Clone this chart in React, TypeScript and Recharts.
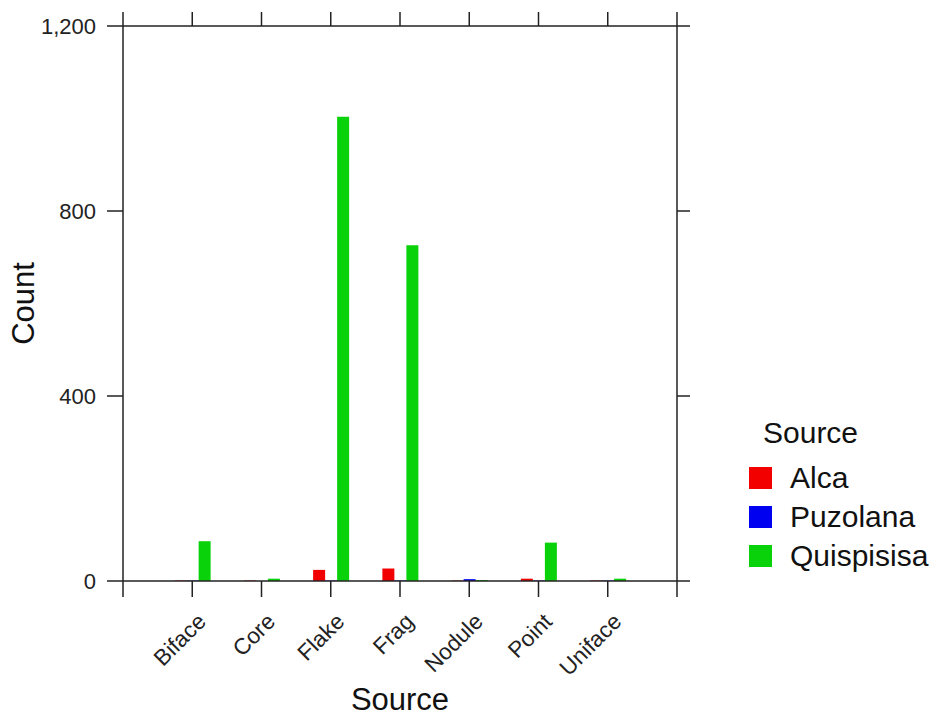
import { BarChart, Bar, XAxis, YAxis, Legend, Label } from 'recharts'

const categories = ['Biface', 'Core', 'Flake', 'Frag', 'Nodule', 'Point', 'Uniface']
const alca = [1, 1, 24, 27, 1, 5, 1]
const puzolana = [1, 0, 1, 1, 4, 1, 1]
const quispisisa = [86, 5, 1004, 726, 2, 83, 5]
const countTicks = [0, 400, 800, 1200]
// category slots sit at 1..7, the frame corners at 0 and 8
const slotTicks = [0, 1, 2, 3, 4, 5, 6, 7, 8]

const font = "Arial, 'Liberation Sans', sans-serif"
const ink = '#222'

const data = categories.map((name, i) => ({
   pos: i + 1,
   name,
   Alca: alca[i],
   Puzolana: puzolana[i],
   Quispisisa: quispisisa[i],
}))

const CategoryTick = ({ x, y, payload }: any) => {
   const name = categories[payload.value - 1]
   if (!name) return <g />
   return (
      <text
         x={0}
         y={0}
         transform={`translate(${x + 15},${y + 26}) rotate(-45)`}
         textAnchor='end'
         fontSize={22.5}
         fontFamily={font}
         fill={ink}
      >
         {name}
      </text>
   )
}

const NoTick = () => <g />

const LegendBox = ({ payload }: any) => (
   <div style={{ fontFamily: font, color: '#111' }}>
      <div style={{ height: 40, lineHeight: '40px', fontSize: 30, paddingLeft: 14, marginBottom: 5 }}>Source</div>
      {(payload || []).map((item: any) => (
         <div key={item.value} style={{ height: 39, display: 'flex', alignItems: 'center' }}>
            <div style={{ width: 23, height: 22, background: item.color }} />
            <span style={{ fontSize: 30, marginLeft: 18 }}>{item.value}</span>
         </div>
      ))}
   </div>
)

export default function App() {
   return (
      <div style={{ position: 'absolute', left: 0, top: 0, width: 940, height: 717, background: '#fff' }}>
         <BarChart
            width={940}
            height={717}
            data={data}
            margin={{ top: 0, right: 0, bottom: 0, left: 0 }}
            barSize={12}
            barGap={0}
         >
            <XAxis
               dataKey='pos'
               type='number'
               domain={[0, 8]}
               ticks={slotTicks}
               interval={0}
               allowDataOverflow
               height={136}
               tickSize={16}
               tickMargin={0}
               tick={CategoryTick}
               stroke={ink}
               strokeWidth={1.5}
            >
               <Label value='Source' position='insideBottom' offset={7} fontSize={31} fontFamily={font} fill='#111' />
            </XAxis>
            <XAxis
               xAxisId='top'
               orientation='top'
               dataKey='pos'
               type='number'
               domain={[0, 8]}
               ticks={slotTicks}
               interval={0}
               allowDataOverflow
               height={26}
               tickSize={14}
               tick={NoTick}
               stroke={ink}
               strokeWidth={1.5}
            />
            <YAxis
               type='number'
               domain={[0, 1200]}
               ticks={countTicks}
               interval={0}
               allowDataOverflow
               width={123}
               tickSize={16}
               tickMargin={11}
               tickFormatter={(v: number) => v.toLocaleString('en-US')}
               tick={{ fontSize: 22, fontFamily: font, fill: ink }}
               stroke={ink}
               strokeWidth={1.5}
            >
               <Label
                  value='Count'
                  angle={-90}
                  position='insideLeft'
                  offset={23}
                  style={{ textAnchor: 'middle' }}
                  fontSize={31}
                  fontFamily={font}
                  fill='#111'
               />
            </YAxis>
            <YAxis
               yAxisId='right'
               orientation='right'
               type='number'
               domain={[0, 1200]}
               ticks={countTicks}
               interval={0}
               allowDataOverflow
               width={263}
               tickSize={13}
               tick={NoTick}
               stroke={ink}
               strokeWidth={1.5}
            />
            <Legend
               layout='horizontal'
               verticalAlign='middle'
               align='center'
               content={LegendBox}
               wrapperStyle={{ left: 749, top: 413, width: 191 }}
            />
            <Bar dataKey='Alca' name='Alca' fill='#f20000' isAnimationActive={false} />
            <Bar dataKey='Puzolana' name='Puzolana' fill='#0000f0' isAnimationActive={false} />
            <Bar dataKey='Quispisisa' name='Quispisisa' fill='#0ad20a' isAnimationActive={false} />
         </BarChart>
      </div>
   )
}
